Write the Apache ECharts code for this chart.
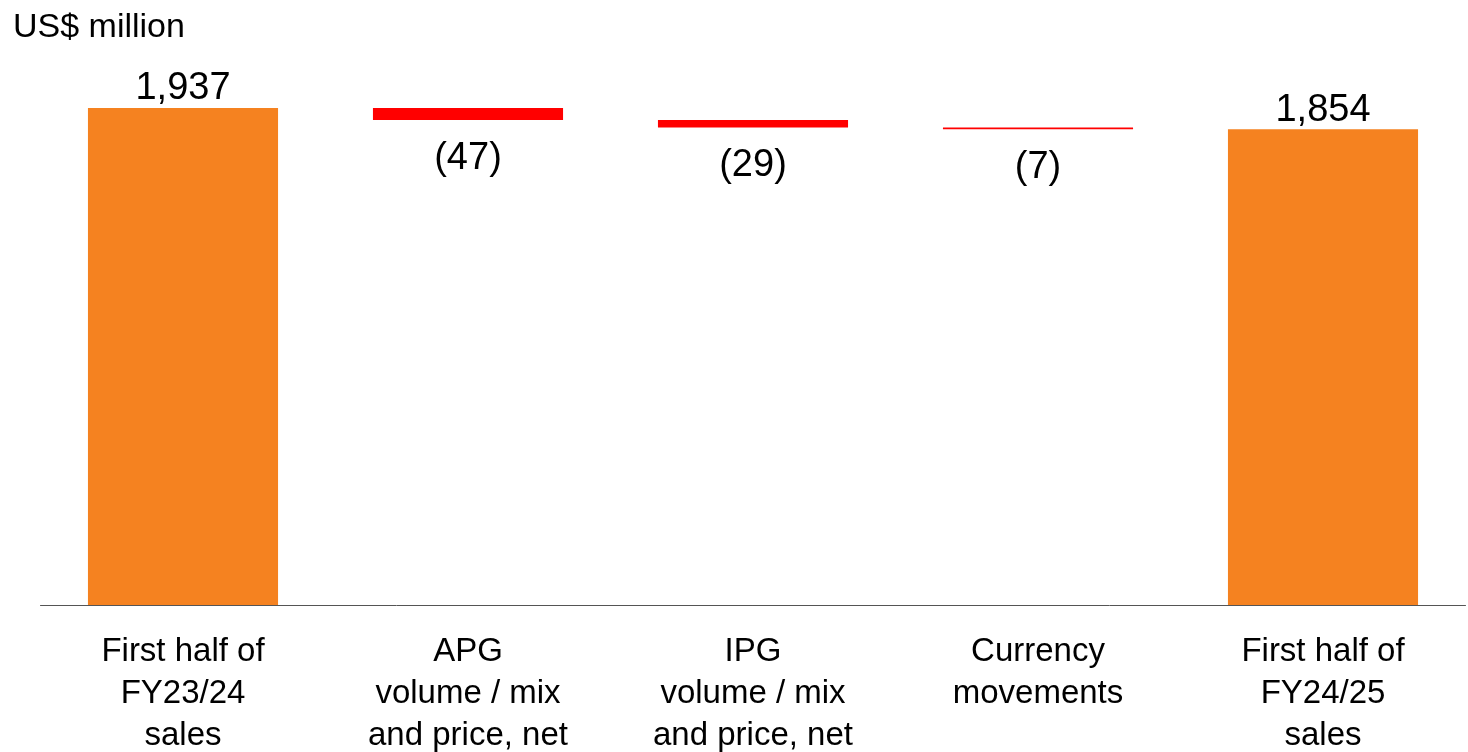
<!DOCTYPE html>
<html>
<head>
<meta charset="utf-8">
<title>Sales bridge</title>
<script src="https://cdn.jsdelivr.net/npm/echarts@6/dist/echarts.min.js"></script>
<style>
  html, body { margin: 0; padding: 0; background: #ffffff; overflow: hidden; }
  #chart { width: 1468px; height: 752px; }
</style>
</head>
<body>
<div id="chart"></div>
<script>
// Bridge categories (multi-line axis labels)
const categories = [
  'First half of\nFY23/24\nsales',
  'APG\nvolume / mix\nand price, net',
  'IPG\nvolume / mix\nand price, net',
  'Currency\nmovements',
  'First half of\nFY24/25\nsales'
];
// Opening and closing totals (US$ million)
const openingSales = 1937;
const closingSales = 1854;
// Changes between the two periods (US$ million)
const changes = [-47, -29, -7];

// Build the stacked series: invisible base + visible segment
const totals = [];
const bases = [];
const drops = [];
let running = openingSales;
totals.push(openingSales); bases.push(0); drops.push('-');
changes.forEach(function (c) {
  running += c;
  totals.push('-');
  bases.push(running);
  drops.push(-c);
});
totals.push(closingSales); bases.push(0); drops.push('-');

const fontFamily = '"Helvetica Neue", "Liberation Sans", Arial, sans-serif';

const chart = echarts.init(document.getElementById('chart'), null, { renderer: 'canvas' });
chart.setOption({
  animation: false,
  title: {
    text: 'US$ million',
    left: 8,
    top: 6,
    textStyle: { fontFamily: fontFamily, fontSize: 34, fontWeight: 'normal', color: '#000000' }
  },
  grid: {
    left: 40.5, width: 1425, top: 40.5, height: 564.5,
    containLabel: false,
    outerBoundsMode: 'none'
  },
  xAxis: {
    type: 'category',
    data: categories,
    axisLine: { show: true, lineStyle: { color: '#555555', width: 1 } },
    axisTick: { show: false },
    axisLabel: {
      interval: 0,
      margin: 26,
      fontFamily: fontFamily,
      fontSize: 33,
      lineHeight: 42,
      color: '#000000',
      align: 'center'
    }
  },
  yAxis: {
    type: 'value',
    min: 0,
    max: 2200,
    show: false
  },
  series: [
    {
      name: 'base',
      type: 'bar',
      stack: 'bridge',
      data: bases,
      barCategoryGap: '33.3%',
      itemStyle: { color: 'transparent' },
      silent: true
    },
    {
      name: 'change',
      type: 'bar',
      stack: 'bridge',
      data: drops,
      itemStyle: { color: '#FF0000' },
      label: {
        show: true,
        position: 'bottom',
        distance: 19,
        fontFamily: fontFamily,
        fontSize: 38,
        color: '#000000',
        formatter: function (p) { return '(' + p.value + ')'; }
      }
    },
    {
      name: 'total',
      type: 'bar',
      stack: 'bridge',
      data: totals,
      itemStyle: { color: '#F58220' },
      label: {
        show: true,
        position: 'top',
        distance: 0,
        fontFamily: fontFamily,
        fontSize: 38,
        color: '#000000',
        formatter: function (p) { return p.value.toLocaleString('en-US'); }
      }
    }
  ]
});
</script>
</body>
</html>
